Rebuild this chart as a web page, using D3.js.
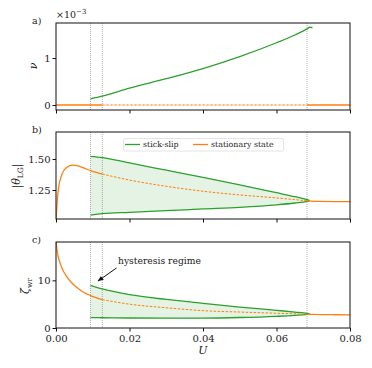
<!DOCTYPE html>
<html>
<head>
<meta charset="utf-8">
<script src="https://cdn.jsdelivr.net/npm/d3@7"></script>
<style>
  body { margin: 0; background: #fff; }
  text { font-family: "DejaVu Serif", serif; fill: #222; }
</style>
</head>
<body>
<script>
// stationary state (orange)
var uStat = [0, 0.0002, 0.0005, 0.0008, 0.0012, 0.0016, 0.0021, 0.003, 0.0044, 0.0057, 0.0075,
             0.0094, 0.0126, 0.02, 0.03, 0.04, 0.05, 0.06, 0.0683, 0.072, 0.076, 0.08];
var thetaStat = [1.0, 1.10, 1.22, 1.29, 1.34, 1.375, 1.405, 1.433, 1.450, 1.446, 1.428,
                 1.406, 1.379, 1.33, 1.28, 1.24, 1.21, 1.186, 1.163, 1.158, 1.157, 1.157];
var zetaStat = [18.5, 16.8, 15.3, 14.4, 13.4, 12.6, 11.8, 10.7, 9.4, 8.5, 7.5,
                6.8, 5.95, 5.0, 4.25, 3.64, 3.35, 3.1, 2.9, 2.82, 2.78, 2.75];

// stick-slip (green)
var uNu = [0.0094, 0.0126, 0.02, 0.03, 0.04, 0.05, 0.06, 0.065, 0.0683, 0.069, 0.0698];
var nuSlip = [0.133, 0.19, 0.36, 0.56, 0.776, 1.03, 1.325, 1.49, 1.62, 1.655, 1.645];
var uSlip = [0.0094, 0.0126, 0.02, 0.03, 0.04, 0.05, 0.06, 0.065, 0.0683, 0.069];
var thetaMax = [1.522, 1.512, 1.468, 1.41, 1.352, 1.292, 1.228, 1.196, 1.172, 1.165];
var thetaMin = [1.048, 1.059, 1.07, 1.083, 1.097, 1.11, 1.13, 1.145, 1.158, 1.165];
var zetaMax = [8.96, 8.19, 7.0, 6.0, 5.18, 4.4, 3.71, 3.35, 3.08, 2.95];
var zetaMin = [2.17, 2.15, 2.1, 2.07, 2.08, 2.2, 2.45, 2.65, 2.85, 2.95];

var uMarks = [0.0094, 0.0126, 0.0683];
var uStable = [0.0126, 0.0683];   // stationary state dashed in between
var xTicks = [0, 0.02, 0.04, 0.06, 0.08];

var green = '#2ca02c', orange = '#ff7f0e';

var svg = d3.select('body').append('svg')
    .attr('width', 372)
    .attr('height', 368);

var x = d3.scaleLinear().domain([0, 0.08]).range([56, 350]);

var panels = [
  {id: 'a', top: 23, bottom: 110, domain: [-0.106, 1.745], ticks: [0, 1], fmt: d3.format('d'),
   stat: uStat.map(function() { return 0; }), slip: null},
  {id: 'b', top: 132, bottom: 219, domain: [1.016, 1.718], ticks: [1.25, 1.5], fmt: d3.format('.2f'),
   stat: thetaStat, slip: [thetaMax, thetaMin]},
  {id: 'c', top: 242, bottom: 328, domain: [0, 18.05], ticks: [0, 10], fmt: d3.format('d'),
   stat: zetaStat, slip: [zetaMax, zetaMin]}
];

panels.forEach(function(p, i) {
  var y = d3.scaleLinear().domain(p.domain).range([p.bottom, p.top]);
  var g = svg.append('g');

  g.append('clipPath').attr('id', 'clip' + i)
    .append('rect')
      .attr('x', 56).attr('y', p.top)
      .attr('width', 294).attr('height', p.bottom - p.top);

  var plot = g.append('g').attr('clip-path', 'url(#clip' + i + ')');

  // markers of the transitions
  plot.selectAll('.vline')
      .data(uMarks)
    .enter().append('line')
      .attr('x1', x).attr('x2', x)
      .attr('y1', p.top).attr('y2', p.bottom)
      .attr('stroke', '#999')
      .attr('stroke-width', 0.8)
      .attr('stroke-dasharray', '1,1');

  var line = d3.line()
      .x(function(d) { return x(d[0]); })
      .y(function(d) { return y(d[1]); })
      .curve(d3.curveMonotoneX);

  // stick-slip band
  if (p.slip) {
    var band = uSlip.map(function(u, k) { return [u, p.slip[0][k], p.slip[1][k]]; });
    plot.append('path')
        .attr('d', d3.area()
            .x(function(d) { return x(d[0]); })
            .y0(function(d) { return y(d[2]); })
            .y1(function(d) { return y(d[1]); })
            .curve(d3.curveMonotoneX)(band))
        .attr('fill', green)
        .attr('fill-opacity', 0.13);
    p.slip.forEach(function(vals) {
      plot.append('path')
          .attr('d', line(uSlip.map(function(u, k) { return [u, vals[k]]; })))
          .attr('fill', 'none')
          .attr('stroke', green)
          .attr('stroke-width', 1.3);
    });
  } else {
    plot.append('path')
        .attr('d', line(uNu.map(function(u, k) { return [u, nuSlip[k]]; })))
        .attr('fill', 'none')
        .attr('stroke', green)
        .attr('stroke-width', 1.3);
  }

  // stationary state: solid where stable, dashed where unstable
  var pts = uStat.map(function(u, k) { return [u, p.stat[k]]; });
  var segs = [
    {d: pts.filter(function(d) { return d[0] <= uStable[0]; }), dash: null},
    {d: pts.filter(function(d) { return d[0] >= uStable[0] && d[0] <= uStable[1]; }), dash: '2.5,1.5'},
    {d: pts.filter(function(d) { return d[0] >= uStable[1]; }), dash: null}
  ];
  segs.forEach(function(s) {
    plot.append('path')
        .attr('d', line(s.d))
        .attr('fill', 'none')
        .attr('stroke', orange)
        .attr('stroke-width', s.dash ? 1 : 1.3)
        .attr('stroke-dasharray', s.dash);
  });

  // frame
  g.append('rect')
      .attr('x', 56).attr('y', p.top)
      .attr('width', 294).attr('height', p.bottom - p.top)
      .attr('fill', 'none')
      .attr('stroke', '#111')
      .attr('stroke-width', 1);

  var yAxis = g.append('g')
      .attr('transform', 'translate(56,0)')
      .call(d3.axisLeft(y).tickValues(p.ticks).tickFormat(p.fmt).tickSize(3.5).tickPadding(2));
  var xAxis = g.append('g')
      .attr('transform', 'translate(0,' + p.bottom + ')')
      .call(d3.axisBottom(x).tickValues(xTicks).tickSize(3.5).tickPadding(3)
          .tickFormat(i === 2 ? d3.format('.2f') : ''));
  [yAxis, xAxis].forEach(function(ax) {
    ax.select('.domain').remove();
    ax.selectAll('.tick line').attr('stroke', '#111');
    ax.selectAll('text').style('font-size', '10px').style('font-family', '"DejaVu Serif", serif').attr('fill', '#222');
  });

  g.append('text')
      .attr('x', 32).attr('y', p.top + 1)
      .style('font-size', '9.5px')
      .text(p.id + ')');
});

// exponent label on panel a
var expo = svg.append('text').attr('x', 56).attr('y', 18).style('font-size', '9.5px');
expo.append('tspan').text('×10');
expo.append('tspan').attr('dy', -4).style('font-size', '7px').text('−3');

// y labels
svg.append('text')
    .attr('transform', 'translate(37,66) rotate(-90)')
    .attr('text-anchor', 'middle')
    .style('font-size', '11px').style('font-style', 'italic')
    .text('ν');

var thLab = svg.append('text')
    .attr('transform', 'translate(20,176) rotate(-90)')
    .attr('text-anchor', 'middle')
    .style('font-size', '11px');
thLab.append('tspan').text('|');
thLab.append('tspan').style('font-style', 'italic').text('θ');
thLab.append('tspan').attr('dy', 2.5).style('font-size', '7.5px').text('LG');
thLab.append('tspan').attr('dy', -2.5).text('|');

var zeLab = svg.append('text')
    .attr('transform', 'translate(29,286) rotate(-90)')
    .attr('text-anchor', 'middle')
    .style('font-size', '11px');
zeLab.append('tspan').style('font-style', 'italic').text('ζ');
zeLab.append('tspan').attr('dy', 2.5).style('font-size', '7.5px').text('wr');

svg.append('text')
    .attr('x', 203).attr('y', 354)
    .attr('text-anchor', 'middle')
    .style('font-size', '11px').style('font-style', 'italic')
    .text('U');

// legend
var leg = svg.append('g');
leg.append('rect')
    .attr('x', 123.5).attr('y', 138.5).attr('width', 160).attr('height', 12.5)
    .attr('rx', 1.5)
    .attr('fill', '#fff').attr('fill-opacity', 0.85)
    .attr('stroke', '#ddd').attr('stroke-width', 0.8);
var legItems = [{label: 'stick-slip', color: green, x: 125}, {label: 'stationary state', color: orange, x: 193}];
legItems.forEach(function(it) {
  leg.append('line')
      .attr('x1', it.x).attr('x2', it.x + 15)
      .attr('y1', 144.5).attr('y2', 144.5)
      .attr('stroke', it.color).attr('stroke-width', 1.3);
  leg.append('text')
      .attr('x', it.x + 18).attr('y', 147.3)
      .style('font-size', '7.9px')
      .text(it.label);
});

// annotation
svg.append('defs').append('marker')
    .attr('id', 'head')
    .attr('viewBox', '0 0 10 10')
    .attr('refX', 9).attr('refY', 5)
    .attr('markerWidth', 6).attr('markerHeight', 6)
    .attr('orient', 'auto')
  .append('path')
    .attr('d', 'M0,1L10,5L0,9z')
    .attr('fill', '#111');
svg.append('line')
    .attr('x1', 116.5).attr('y1', 268)
    .attr('x2', 98).attr('y2', 281)
    .attr('stroke', '#111').attr('stroke-width', 1)
    .attr('marker-end', 'url(#head)');
svg.append('text')
    .attr('x', 118).attr('y', 263.5)
    .style('font-size', '9.2px')
    .text('hysteresis regime');
</script>
</body>
</html>
